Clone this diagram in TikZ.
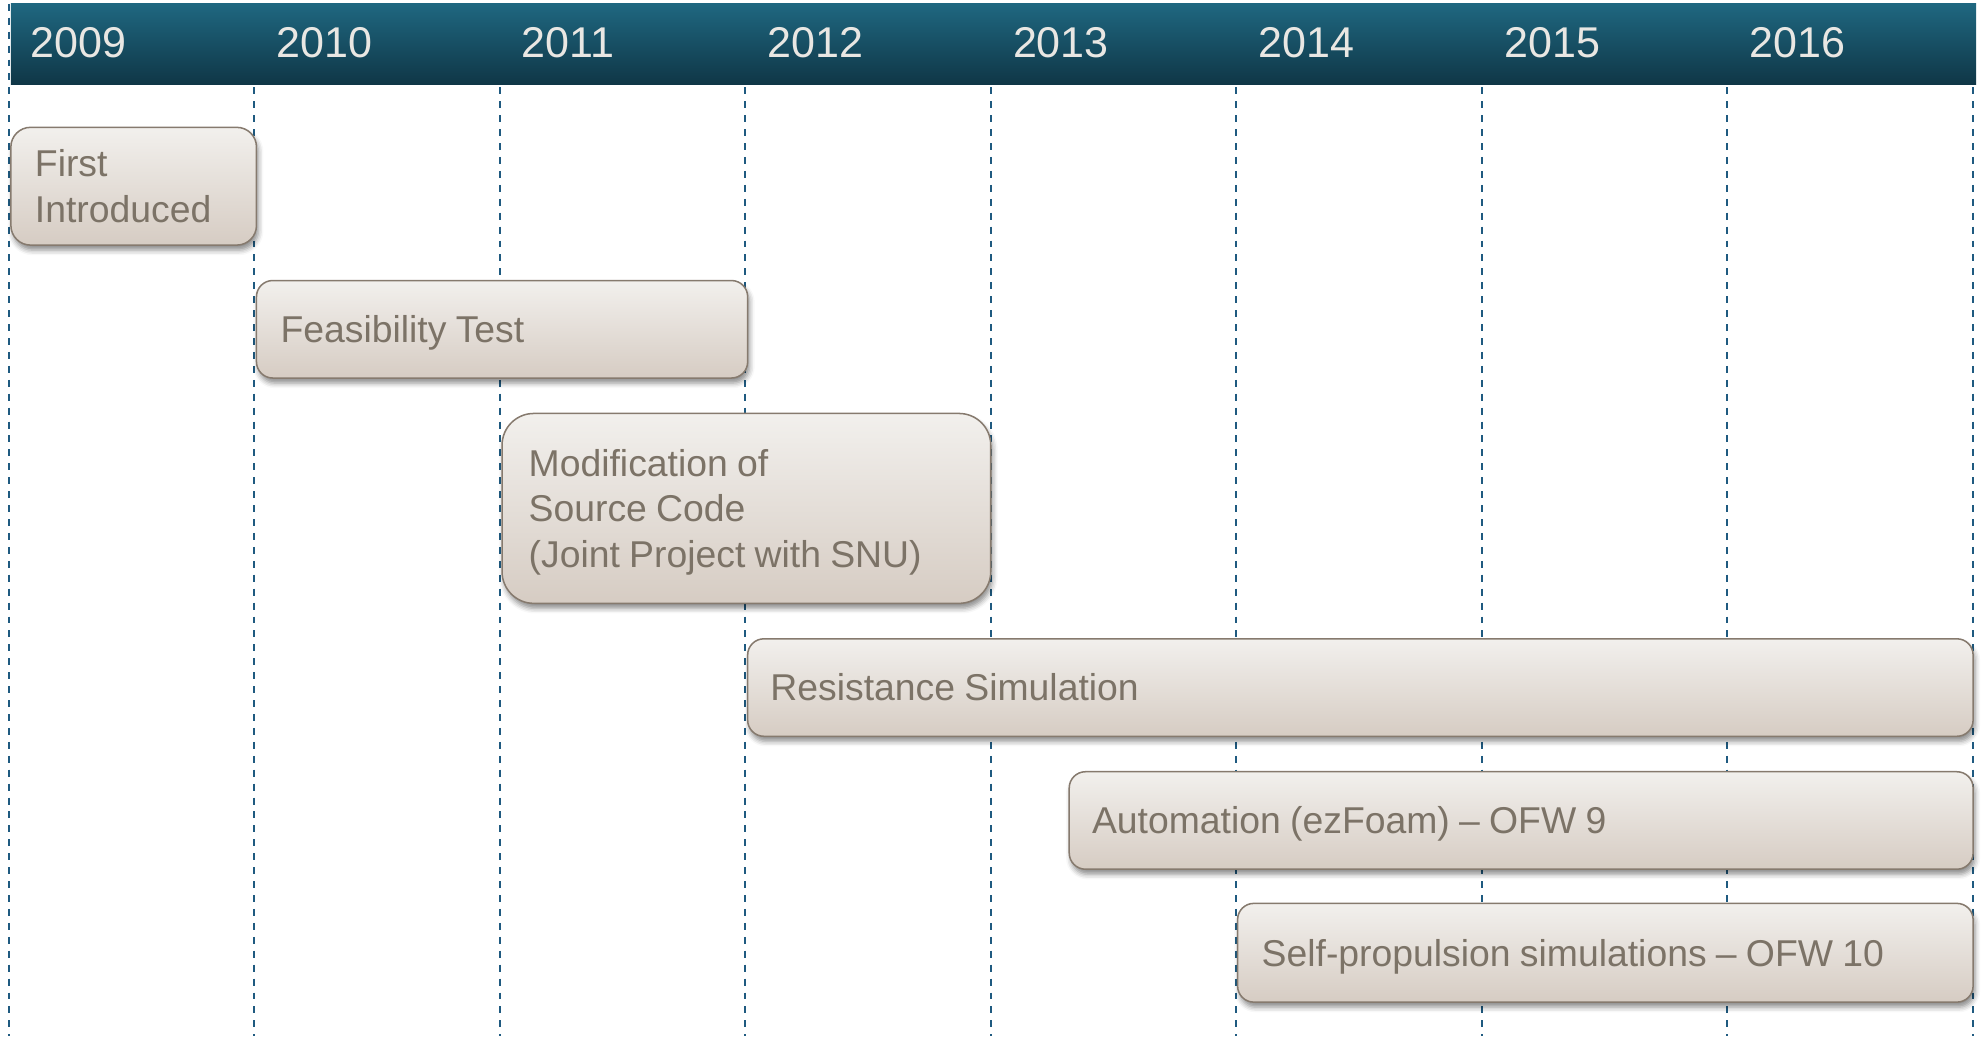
\documentclass[tikz,border=0pt]{standalone}
\usepackage{fontspec}
\setmainfont{Liberation Sans}
\usetikzlibrary{shadows.blur}
\definecolor{hdtop}{HTML}{1F6780}
\definecolor{hdbot}{HTML}{0F3646}
\definecolor{yeartxt}{HTML}{E9E7E3}
\definecolor{gridblue}{HTML}{1F5A80}
\definecolor{boxtop}{HTML}{F2F0ED}
\definecolor{boxbot}{HTML}{D6CCC3}
\definecolor{boxline}{HTML}{867A6E}
\definecolor{boxtxt}{HTML}{7C7367}
\newcommand{\phasefont}{\fontsize{29.5}{36}\selectfont}
\newcommand{\phasespace}{\spaceskip=7.3pt plus 2pt minus 1pt\relax}
\tikzset{
  yearlbl/.style={anchor=west, text=yeartxt, inner sep=0pt, font=\fontsize{34}{40}\selectfont},
  gridline/.style={draw=gridblue, line width=1.5pt, dash pattern=on 5.5pt off 5.5pt},
  phase/.style={draw=boxline, line width=1.2pt, top color=boxtop, bottom color=boxbot,
    anchor=north west, inner xsep=19pt, inner ysep=0pt, align=left, text=boxtxt,
    font=\phasefont, execute at begin node=\phasespace, text height=21.1pt, text depth=0pt,
    blur shadow={shadow xshift=1.5pt, shadow yshift=-4pt, shadow blur radius=4pt, shadow opacity=45}},
}
\begin{document}
\begin{tikzpicture}[x=1pt,y=-1pt]
\useasboundingbox (0,0) rectangle (1568,822);
% grid lines
\foreach \i in {0,...,8} {
  \pgfmathsetmacro{\xx}{7+193.9*\i}
  \coordinate (gt\i) at (\xx,3);
  \coordinate (gb\i) at (\xx,818);
  \draw[gridline] (gt\i) -- (gb\i);
}
% header
\shade[top color=hdtop, bottom color=hdbot] (8.5,3) rectangle (1561,67);
\foreach \yr [count=\i from 0] in {2009,2010,2011,2012,2013,2014,2015,2016} {
  \pgfmathsetmacro{\xx}{24+194*\i}
  \node[yearlbl] (y\yr) at (\xx,34) {\yr};
}
% phases
\node[phase, rounded corners=15.5pt, minimum width=194pt, minimum height=93pt, text width=156pt, text depth=36pt] (p1) at (8,100) {First\\Introduced};
\node[phase, rounded corners=12.8pt, minimum width=388pt, minimum height=77pt, text width=350pt] (p2) at (202,221) {Feasibility Test};
\node[phase, rounded corners=25pt, minimum width=386pt, minimum height=150pt, text width=344pt, inner xsep=21pt, text depth=72pt] (p3) at (396,326) {Modification of\\Source Code\\(Joint Project with SNU)};
\node[phase, rounded corners=12.8pt, minimum width=968pt, minimum height=77pt, text width=932pt, inner xsep=18pt] (p4) at (590,504) {Resistance Simulation};
\node[phase, rounded corners=12.8pt, minimum width=714pt, minimum height=77pt, text width=678pt, inner xsep=18pt] (p5) at (844,609) {Automation (ezFoam) -- OFW 9};
\node[phase, rounded corners=12.8pt, minimum width=581pt, minimum height=78pt, text width=543pt] (p6) at (977,713) {Self-propulsion simulations -- OFW 10};
\end{tikzpicture}
\end{document}
